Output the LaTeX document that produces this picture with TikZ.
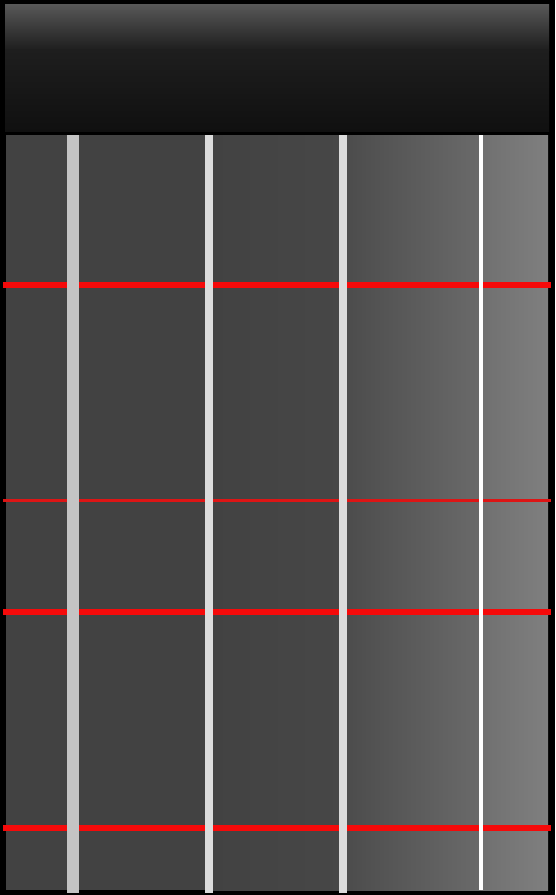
\documentclass[tikz,border=0pt]{standalone}
\definecolor{hdtop}{HTML}{585858}
\definecolor{hdmid}{HTML}{1E1E1E}
\definecolor{hdbot}{HTML}{101010}
\definecolor{bodyA}{HTML}{424242}
\definecolor{bodyB}{HTML}{474747}
\definecolor{midA}{HTML}{4C4C4C}
\definecolor{midB}{HTML}{6A6A6A}
\definecolor{rgtA}{HTML}{707070}
\definecolor{rgtB}{HTML}{7F7F7F}
\definecolor{strA}{HTML}{C4C4C4}
\definecolor{strB}{HTML}{DCDCDC}
\definecolor{fretred}{HTML}{F50A0A}
\definecolor{fretthin}{HTML}{DD1515}
\tikzset{
  fretline/.style={draw=fretred, line width=6pt},
  fretthinline/.style={draw=fretthin, line width=3pt}
}
\begin{document}
\begin{tikzpicture}[x=1pt,y=-1pt]
\fill[black] (0,0) rectangle (555,895);
\useasboundingbox (0,0) rectangle (555,895);
% header
\shade[top color=hdtop, bottom color=hdmid] (5,4) rectangle (549,50);
\shade[top color=hdmid, bottom color=hdbot] (5,49.5) rectangle (549,131);
% body
\fill[bodyA] (6,135) rectangle (209,890);
\shade[left color=bodyA, right color=bodyB] (208.5,135) rectangle (346,890);
\shade[left color=midA, right color=midB] (345.5,135) rectangle (481,890);
\shade[left color=rgtA, right color=rgtB] (480.5,135) rectangle (548,890);
% frets
\draw[fretline] (3,285) -- (551,285);
\draw[fretthinline] (3,500) -- (551,500);
\draw[fretline] (3,612) -- (551,612);
\draw[fretline] (3,828) -- (551,828);
% strings
\fill[strA] (67,135) rectangle (79,893);
\fill[strB] (205,135) rectangle (213,893);
\fill[strB] (339,135) rectangle (347,893);
\fill[white] (479,135) rectangle (483,890);
\end{tikzpicture}
\end{document}
